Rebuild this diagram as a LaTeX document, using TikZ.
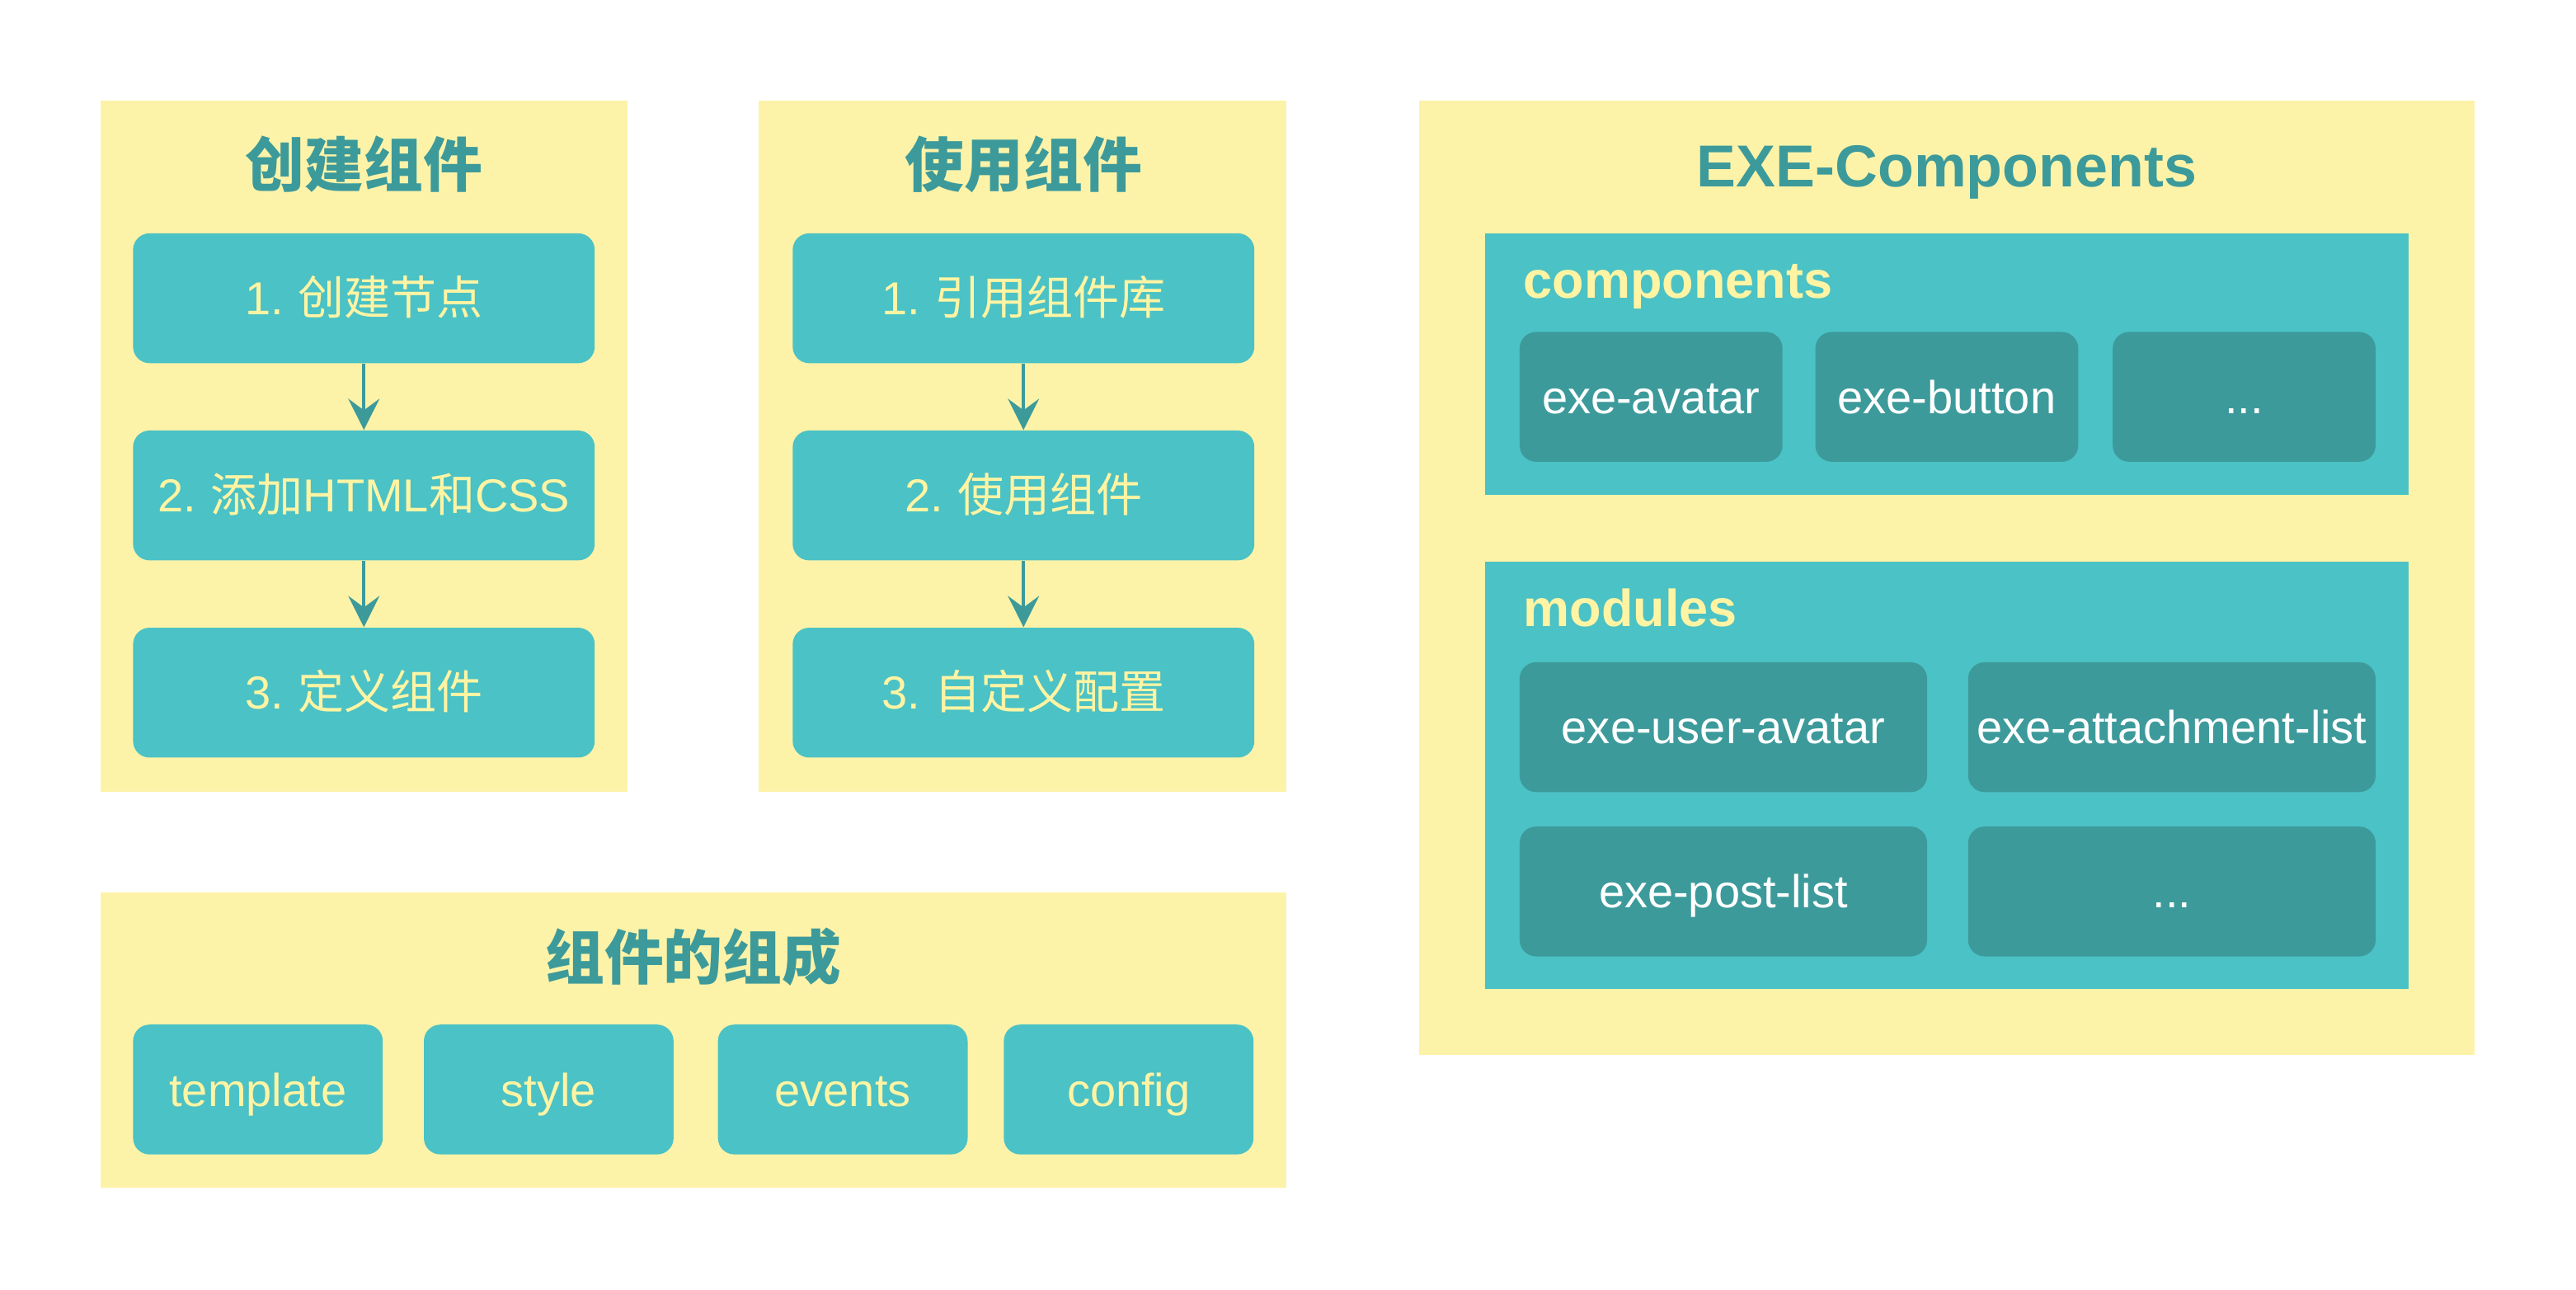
\documentclass[tikz,border=0pt]{standalone}
\usepackage{fontspec}
\setmainfont{Liberation Sans}
\newfontfamily\cjk{Noto Sans CJK SC}
\usetikzlibrary{arrows.meta}
\definecolor{paper}{HTML}{FDF3A8}
\definecolor{tealbox}{HTML}{4BC2C5}
\definecolor{tealdark}{HTML}{3D9A9B}
\definecolor{ink}{HTML}{FFF4A3}
\newcommand{\gap}{\hspace{5pt}}
\tikzset{
  txt/.style={inner sep=0pt, text depth=0pt},
  heading/.style={txt, text height=14.7pt, text=tealdark, font=\fontsize{20.5}{24}\selectfont\bfseries},
  tag/.style={txt, text height=12.9pt, anchor=west, text=ink, font=\fontsize{18}{22}\selectfont\bfseries},
  stepbox/.style={txt, text height=11.5pt, fill=tealbox, rounded corners=2mm, minimum width=56.2mm, minimum height=15.8mm, text=ink, font=\fontsize{16}{19}\selectfont},
  partbox/.style={stepbox, minimum width=30.4mm},
  compbox/.style={stepbox, fill=tealdark, text=white, minimum width=32mm},
  modbox/.style={compbox, minimum width=49.6mm},
  flow/.style={draw=tealdark, line width=0.4mm, -{Stealth[length=3.8mm, width=3.8mm, inset=1.4mm]}}
}
\begin{document}
\begin{tikzpicture}[x=0.2mm, y=-0.2mm]
  \useasboundingbox (0,0) rectangle (1568,785);
  \fill[white] (0,0) rectangle (1568,785);
  % panels
  \fill[paper] (61,61) rectangle (382,482);
  \fill[paper] (462,61) rectangle (783,482);
  \fill[paper] (61,543) rectangle (783,723);
  \fill[paper] (864,61) rectangle (1506,642);
  \fill[tealbox] (904,142) rectangle (1466,301);
  \fill[tealbox] (904,342) rectangle (1466,602);
  % create
  \node[heading] (create) at (221.5,101) {\cjk 创建组件};
  \node[stepbox] (c1) at (221.5,181.5) {1.\gap{\cjk 创建节点}};
  \node[stepbox] (c2) at (221.5,301.5) {2.\gap{\cjk 添加}HTML{\cjk 和}CSS};
  \node[stepbox] (c3) at (221.5,421.5) {3.\gap{\cjk 定义组件}};
  \draw[flow] (c1) -- (c2);
  \draw[flow] (c2) -- (c3);
  % use
  \node[heading] (use) at (623,101) {\cjk 使用组件};
  \node[stepbox] (u1) at (623,181.5) {1.\gap{\cjk 引用组件库}};
  \node[stepbox] (u2) at (623,301.5) {2.\gap{\cjk 使用组件}};
  \node[stepbox] (u3) at (623,421.5) {3.\gap{\cjk 自定义配置}};
  \draw[flow] (u1) -- (u2);
  \draw[flow] (u2) -- (u3);
  % parts
  \node[heading] (parts) at (422,583) {\cjk 组件的组成};
  \foreach \x/\t/\n in {157/template/p1, 334/style/p2, 513/events/p3, 687/config/p4}
    \node[partbox] (\n) at (\x,663) {\t};
  % library
  \node[heading] (lib) at (1185,101) {EXE-Components};
  \node[tag] (comps) at (927,170) {components};
  \node[tag] (mods) at (927,370) {modules};
  \node[compbox] (k1) at (1005,241.5) {exe-avatar};
  \node[compbox] (k2) at (1185,241.5) {exe-button};
  \node[compbox] (k3) at (1366,241.5) {...};
  \node[modbox] (m1) at (1049,442.5) {exe-user-avatar};
  \node[modbox] (m2) at (1322,442.5) {exe-attachment-list};
  \node[modbox] (m3) at (1049,542.5) {exe-post-list};
  \node[modbox] (m4) at (1322,542.5) {...};
\end{tikzpicture}
\end{document}
